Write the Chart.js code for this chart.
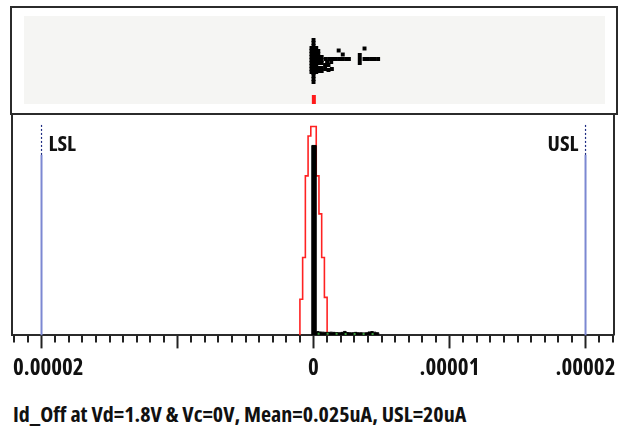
<!DOCTYPE html>
<html>
<head>
<meta charset="utf-8">
<script src="https://cdn.jsdelivr.net/npm/chart.js@4.4.0/dist/chart.umd.min.js"></script>
<style>
  html, body { margin: 0; padding: 0; background: #fff; }
  body { width: 624px; height: 431px; position: relative; overflow: hidden; }
  #topWrap { position: absolute; left: 0; top: 0; width: 624px; height: 116px; }
  #histWrap { position: absolute; left: 0; top: 114px; width: 624px; height: 274px; }
  .caption { position: absolute; left: 13px; top: 402px; line-height: 22px;
             font-family: 'Open Sans', sans-serif; font-stretch: 75%; font-weight: bold;
             font-size: 22px; color: #111; white-space: nowrap; }
</style>
</head>
<body>
<div id="topWrap"><canvas id="dotChart"></canvas></div>
<div id="histWrap"><canvas id="histChart"></canvas></div>
<div class="caption">Id_Off at Vd=1.8V &amp; Vc=0V, Mean=0.025uA, USL=20uA</div>

<script>
// escala em micro-amperes (1e-6 A)
const U = 1e-6;
const xMin = -22.17 * U, xMax = 22.02 * U;

const lsl = -20 * U;
const usl = 20 * U;
const mean = 0.025 * U;

// eixo x: marcas principais e seus rótulos
const majorTicks = [-20 * U, -10 * U, 0, 10 * U, 20 * U];
const majorTickLabels = ['0.00002', '', '0', '.00001', '.00002'];

// curva ajustada (vermelha) em degraus
const fitEdges = [-1.0, -0.8, -0.6, -0.4, -0.2, 0, 0.2, 0.4, 0.6, 0.8, 1.0];
const fitHeights = [19, 41, 84, 105, 110, 110, 84, 64, 41, 20];

// histograma (preto)
const histEdges = [-0.13, 0.2, 0.4, 0.6, 0.8, 1.0, 1.2, 1.4, 1.6, 1.8, 2.0, 2.2, 2.4,
                   2.6, 2.8, 3.0, 3.2, 3.4, 3.6, 3.8, 4.0, 4.2, 4.4, 4.6, 4.8];
const histCounts = [100, 2.0, 1.8, 1.7, 1.6, 1.6, 1.7, 1.6, 1.5, 1.4, 1.6, 2.1, 1.5,
                    1.4, 1.4, 1.6, 1.4, 1.4, 1.3, 1.4, 1.8, 2.0, 1.7, 1.4];

// densidade (verde pontilhada)
const densX = [0.3, 1.0, 2.0, 3.0, 4.0, 4.7];
const densY = [0.9, 0.9, 0.8, 0.8, 0.8, 0.8];

// pontos do painel superior (valor, dispersão)
const dotX = [0, 0, 0, 0, 0, 0, 0, 0, 0, 0, 0, 0, 0, 0, 0,
              -0.15, -0.15, -0.15, -0.15, -0.15, -0.15, -0.15, -0.15, -0.15,
              0.2, 0.2, 0.2, 0.2, 0.2, 0.2, 0.2, 0.2, 0.2,
              0.35, 0.35, 0.35, 0.35, 0.35, 0.35, 0.35, 0.6, 0.6, 0.6, 0.6, 0.6,
              0.85, 1.1, 1.35, 0.85, 1.1,
              0.9, 1.15, 1.4, 1.65, 1.9, 2.15, 2.4, 2.6, 1.0, 1.3,
              1.85, 2.15,
              3.4, 3.4, 3.4, 3.75, 3.75, 4.0, 4.25, 4.5, 4.75];
const dotY = [64, 61, 58, 55, 52, 49, 46, 43, 40, 37, 34, 31, 28, 25, 22,
              56, 53, 50, 47, 44, 41, 38, 35, 32,
              56, 53, 50, 47, 44, 41, 38, 35, 32,
              53, 50, 47, 44, 41, 36, 33, 47, 44, 41, 36, 33,
              39, 39, 35, 35, 34,
              45, 45, 45, 45, 45, 45, 45, 45, 42, 42,
              53.5, 49.5,
              49, 45, 41, 55.5, 45, 45, 45, 45, 45];

const labelFamily = "'Open Sans', sans-serif";

// degraus: sobe na primeira borda, desce na última
// (stepped 'before': cada valor vale até a borda seguinte)
function stepPoints(edges, heights) {
    const pts = [{ x: edges[0] * U, y: 0 }];
    heights.forEach((h, i) => pts.push({ x: edges[i] * U, y: h }));
    pts.push({ x: edges[edges.length - 1] * U, y: 0 });
    return pts;
}

// fundo cinza e moldura do painel superior
const dotPanel = {
    id: 'dotPanel',
    beforeDatasetsDraw(chart) {
        const { ctx, chartArea } = chart;
        ctx.save();
        ctx.fillStyle = '#f5f5f3';
        ctx.fillRect(24, chartArea.top, 581, chartArea.bottom - chartArea.top);
        ctx.restore();
    },
    afterDraw(chart) {
        const ctx = chart.ctx;
        ctx.save();
        ctx.strokeStyle = '#2b2b2b';
        ctx.lineWidth = 2;
        ctx.strokeRect(11, 7, 606, 107);
        ctx.restore();
    }
};

// moldura, marcas menores, primeiro rótulo e LSL/USL
const histPanel = {
    id: 'histPanel',
    afterDraw(chart) {
        const { ctx, chartArea, scales } = chart;
        const xs = scales.x;
        ctx.save();
        ctx.strokeStyle = '#2b2b2b';
        ctx.lineWidth = 2;
        ctx.beginPath();
        ctx.moveTo(12, 0);
        ctx.lineTo(12, chartArea.bottom);
        ctx.moveTo(614, 0);
        ctx.lineTo(614, chartArea.bottom);
        ctx.stroke();

        ctx.strokeStyle = '#222';
        ctx.beginPath();
        for (let i = -22; i <= 22; i++) {
            if (i % 10 === 0) continue;
            const px = Math.round(xs.getPixelForValue(i * U));
            ctx.moveTo(px, chartArea.bottom);
            ctx.lineTo(px, chartArea.bottom + 7);
        }
        ctx.stroke();

        // o rótulo da ponta esquerda fica encostado na moldura
        const first = xs.getLabelItems()[0];
        ctx.fillStyle = '#111';
        ctx.font = first.font.string;
        ctx.textBaseline = first.options.textBaseline;
        ctx.textAlign = 'left';
        ctx.fillText(majorTickLabels[0], 13, first.options.translation[1] + (first.textOffset || 0));

        ctx.font = 'bold condensed 22px ' + labelFamily;
        ctx.textBaseline = 'alphabetic';
        ctx.textAlign = 'left';
        ctx.fillText('LSL', xs.getPixelForValue(lsl) + 7, chartArea.top + 35);
        ctx.textAlign = 'right';
        ctx.fillText('USL', xs.getPixelForValue(usl) - 7, chartArea.top + 35);
        ctx.restore();
    }
};

const xScale = {
    type: 'linear',
    min: xMin,
    max: xMax
};

new Chart(document.getElementById('dotChart'), {
    type: 'scatter',
    data: {
        datasets: [
            {
                data: [{ x: mean, y: 0 }, { x: mean, y: 9 }],
                showLine: true,
                borderColor: '#ff1a1a',
                borderWidth: 4,
                borderCapStyle: 'butt',
                pointRadius: 0
            },
            {
                data: dotX.map((v, i) => ({ x: v * U, y: dotY[i] })),
                pointStyle: 'rect',
                pointRadius: 2.8,
                borderWidth: 0,
                backgroundColor: '#000'
            }
        ]
    },
    options: {
        responsive: true,
        maintainAspectRatio: false,
        animation: false,
        layout: { padding: { left: 12, right: 11, top: 16, bottom: 12 } },
        plugins: { legend: { display: false }, tooltip: { enabled: false } },
        scales: {
            x: Object.assign({ display: false }, xScale),
            y: { display: false, min: 0, max: 88 }
        }
    },
    plugins: [dotPanel]
});

new Chart(document.getElementById('histChart'), {
    type: 'line',
    data: {
        datasets: [
            {
                data: densX.map((v, i) => ({ x: v * U, y: densY[i] })),
                borderColor: '#3c9a3c',
                borderWidth: 2,
                borderDash: [2, 7],
                pointRadius: 0
            },
            {
                data: stepPoints(histEdges, histCounts),
                stepped: 'before',
                borderColor: '#000',
                backgroundColor: '#000',
                borderWidth: 1,
                fill: 'origin',
                pointRadius: 0
            },
            {
                data: stepPoints(fitEdges, fitHeights),
                stepped: 'before',
                borderColor: '#ff2222',
                borderWidth: 1.6,
                fill: false,
                pointRadius: 0
            },
            {
                data: [{ x: lsl, y: 95 }, { x: lsl, y: 111 }],
                borderColor: '#1c2a80',
                borderWidth: 1.2,
                borderDash: [2, 2],
                pointRadius: 0
            },
            {
                data: [{ x: usl, y: 95 }, { x: usl, y: 111 }],
                borderColor: '#1c2a80',
                borderWidth: 1.2,
                borderDash: [2, 2],
                pointRadius: 0
            },
            {
                data: [{ x: lsl, y: 0 }, { x: lsl, y: 95 }],
                borderColor: '#7c88d2',
                borderWidth: 2,
                pointRadius: 0
            },
            {
                data: [{ x: usl, y: 0 }, { x: usl, y: 95 }],
                borderColor: '#7c88d2',
                borderWidth: 2,
                pointRadius: 0
            }
        ]
    },
    options: {
        responsive: true,
        maintainAspectRatio: false,
        animation: false,
        layout: { padding: { left: 12, right: 11, top: 2, bottom: 0 } },
        plugins: { legend: { display: false }, tooltip: { enabled: false } },
        scales: {
            x: Object.assign({
                afterBuildTicks: axis => {
                    axis.ticks = majorTicks.map(v => ({ value: v }));
                },
                // os rótulos das pontas não devem empurrar a área do gráfico
                afterFit: axis => {
                    axis.paddingLeft = 0;
                    axis.paddingRight = 0;
                },
                border: { display: true, color: '#2b2b2b', width: 2 },
                grid: {
                    drawOnChartArea: false,
                    drawTicks: true,
                    tickLength: 13,
                    tickWidth: 2,
                    tickColor: '#222'
                },
                ticks: {
                    autoSkip: false,
                    maxRotation: 0,
                    padding: 6,
                    // o primeiro rótulo é desenhado pelo plugin
                    color: c => c.index === 0 ? 'rgba(0,0,0,0)' : '#111',
                    font: { family: labelFamily, size: 23, weight: 'bold condensed' },
                    callback: (value, index) => majorTickLabels[index]
                }
            }, xScale),
            y: { display: false, min: 0, max: 115.5 }
        }
    },
    plugins: [histPanel]
});
</script>
</body>
</html>
